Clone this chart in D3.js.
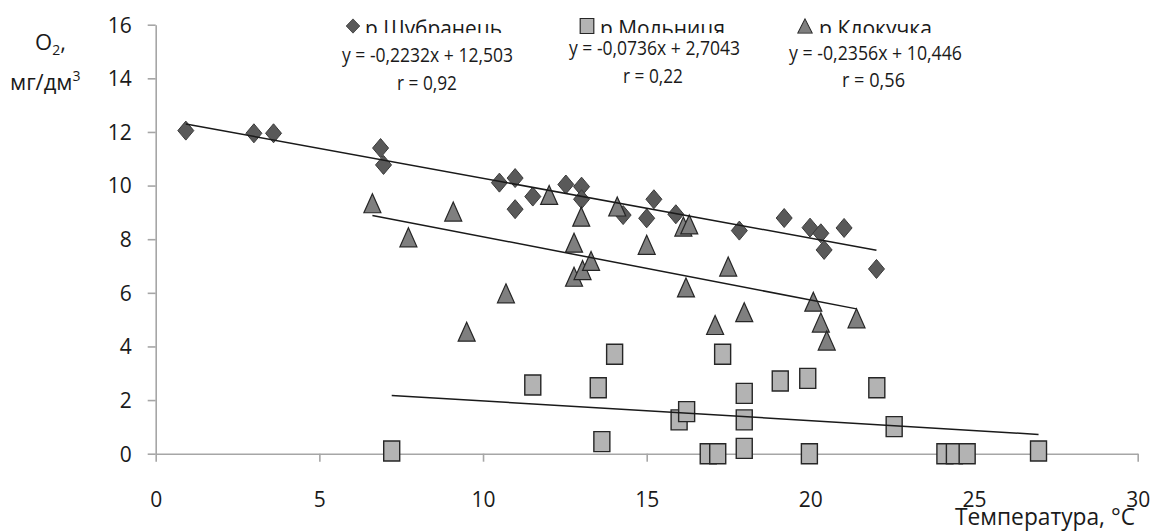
<!DOCTYPE html>
<html lang="uk">
<head>
    <meta charset="UTF-8">
    <title>O2 vs temperature</title>
    <script src="https://d3js.org/d3.v7.min.js"></script>
    <style>
        body { margin: 0; background: #fff; }
        text { font-family: "Open Sans", "DejaVu Sans", sans-serif; fill: #1a1a1a; }
    </style>
</head>
<body>
    <script>
        // р.Шубранець (diamonds)
        const shubX = [0.92, 3.0, 3.6, 6.87, 6.96, 10.5, 10.98, 10.98, 11.52, 12.53, 13.01, 13.01,
                       14.28, 15.0, 15.22, 15.89, 17.83, 19.2, 19.99, 20.32, 20.42, 21.03, 22.02];
        const shubY = [12.05, 11.95, 11.95, 11.4, 10.77, 10.11, 10.28, 9.12, 9.59, 10.04, 9.96, 9.49,
                       8.9, 8.78, 9.49, 8.93, 8.32, 8.79, 8.43, 8.22, 7.6, 8.42, 6.89];

        // р.Мольниця (squares)
        const molX = [7.21, 11.52, 13.52, 13.63, 14.02, 15.99, 16.22, 16.88, 17.17, 17.32, 17.98, 17.98,
                      17.98, 19.08, 19.92, 19.97, 22.03, 22.56, 24.11, 24.4, 24.79, 26.97];
        const molY = [0.1, 2.56, 2.46, 0.45, 3.71, 1.26, 1.57, 0.0, 0.0, 3.71, 2.25, 1.26,
                      0.2, 2.71, 2.81, 0.0, 2.46, 1.01, 0.0, 0.0, 0.0, 0.1];

        // р.Клокучка (triangles)
        const kloX = [6.62, 7.72, 9.09, 9.5, 10.7, 12.02, 12.78, 12.78, 13.0, 13.04, 13.3, 14.1,
                      15.0, 16.12, 16.3, 16.2, 17.09, 17.49, 17.98, 20.09, 20.32, 20.5, 21.41];
        const kloY = [9.34, 8.07, 9.03, 4.55, 5.98, 9.65, 7.87, 6.6, 8.84, 6.85, 7.19, 9.22,
                      7.79, 8.47, 8.55, 6.2, 4.8, 6.98, 5.28, 5.67, 4.89, 4.22, 5.05];

        const seriesNames = ["р.Шубранець", "р.Мольниця", "р.Клокучка"];
        const trendSlope = [-0.2232, -0.0736, -0.2356];
        const trendIntercept = [12.503, 2.7043, 10.446];
        const eqLabels = ["y = -0,2232x + 12,503", "y = -0,0736x + 2,7043", "y = -0,2356x + 10,446"];
        const rLabels = ["r = 0,92", "r = 0,22", "r = 0,56"];

        const xTicks = [0, 5, 10, 15, 20, 25, 30];
        const yTicks = [0, 2, 4, 6, 8, 10, 12, 14, 16];

        const w = 1158;
        const h = 531;

        const xScale = d3.scaleLinear().domain([0, 30]).range([155.7, 1137.7]);
        const yScale = d3.scaleLinear().domain([0, 16]).range([453.7, 24.7]);

        const svg = d3.select("body")
            .append("svg")
            .attr("width", w)
            .attr("height", h);

        // marker shapes, a little taller than wide like the original
        const shapes = {
            diamond: "M0,-9.5L8,0L0,9.5L-8,0Z",
            square: "M-8,-10H8V10H-8Z",
            triangle: "M0,-9.5L8.5,9.5L-8.5,9.5Z"
        };

        const series = [
            { xs: shubX, ys: shubY, shape: "diamond", fill: "#595959", stroke: "#3a3a3a", sw: 1 },
            { xs: molX, ys: molY, shape: "square", fill: "#b3b3b3", stroke: "#262626", sw: 1.4 },
            { xs: kloX, ys: kloY, shape: "triangle", fill: "#7f7f7f", stroke: "#262626", sw: 1.2 }
        ];

        // axes
        const xAxis = d3.axisBottom(xScale).tickValues(xTicks).tickSize(8).tickSizeOuter(0).tickPadding(30);
        const yAxis = d3.axisLeft(yScale).tickValues(yTicks).tickSize(8).tickSizeOuter(0).tickPadding(16);

        const gx = svg.append("g")
            .attr("transform", "translate(0," + yScale(0) + ")")
            .call(xAxis);
        const gy = svg.append("g")
            .attr("transform", "translate(" + xScale(0) + ",0)")
            .call(yAxis);

        [gx, gy].forEach((g) => {
            g.select(".domain").attr("stroke", "#a6a6a6").attr("stroke-width", 1.6);
            g.selectAll(".tick line").attr("stroke", "#a6a6a6").attr("stroke-width", 1.6);
            g.selectAll(".tick text")
                .attr("fill", "#1a1a1a")
                .style("font-size", "21px")
                .style("font-family", "\"Open Sans\", sans-serif");
        });
        gy.selectAll(".tick text").attr("dy", "0.35em");

        // markers
        series.forEach((s) => {
            svg.append("g")
                .selectAll("path")
                .data(s.xs.map((x, i) => [x, s.ys[i]]))
                .enter()
                .append("path")
                .attr("d", shapes[s.shape])
                .attr("transform", (d) => "translate(" + xScale(d[0]) + "," + yScale(d[1]) + ")")
                .attr("fill", s.fill)
                .attr("stroke", s.stroke)
                .attr("stroke-width", s.sw);
        });

        // linear trend lines over each series' x range
        series.forEach((s, i) => {
            const ext = d3.extent(s.xs);
            const line = d3.line()
                .x((d) => xScale(d))
                .y((d) => yScale(trendSlope[i] * d + trendIntercept[i]));
            svg.append("path")
                .attr("d", line(ext))
                .attr("fill", "none")
                .attr("stroke", "#1a1a1a")
                .attr("stroke-width", 1.5);
        });

        // legend (its bottom is cut off by the equation boxes in the original)
        svg.append("clipPath")
            .attr("id", "legclip")
            .append("rect")
            .attr("x", 0).attr("y", 0).attr("width", w).attr("height", 33);

        const legMarkX = [353, 587, 805];
        const legTextX = [365, 600, 819];
        const legTextW = [137, 125, 113];
        const leg = svg.append("g");
        series.forEach((s, i) => {
            leg.append("path")
                .attr("d", shapes[s.shape])
                .attr("transform", "translate(" + legMarkX[i] + ",26) scale(0.85,0.75)")
                .attr("fill", s.fill)
                .attr("stroke", s.stroke)
                .attr("stroke-width", s.sw);
            leg.append("text")
                .attr("x", legTextX[i])
                .attr("y", 36)
                .attr("clip-path", "url(#legclip)")
                .attr("textLength", legTextW[i])
                .attr("lengthAdjust", "spacingAndGlyphs")
                .style("font-size", "22px")
                .text(seriesNames[i]);
        });

        // trend equations and correlation
        const eqX = [427.5, 654.5, 875.5];
        const eqY = [62, 55, 60];
        const eqW = [171, 171, 173];
        const rX = [427, 653, 873.5];
        const rY = [90, 83, 87];
        const rW = [60, 60, 63];
        eqLabels.forEach((t, i) => {
            svg.append("text")
                .attr("x", eqX[i] - eqW[i] / 2)
                .attr("y", eqY[i])
                .attr("textLength", eqW[i])
                .attr("lengthAdjust", "spacingAndGlyphs")
                .style("font-size", "20px")
                .text(t);
            svg.append("text")
                .attr("x", rX[i] - rW[i] / 2)
                .attr("y", rY[i])
                .attr("textLength", rW[i])
                .attr("lengthAdjust", "spacingAndGlyphs")
                .style("font-size", "20px")
                .text(rLabels[i]);
        });

        // axis titles
        const yTitle = svg.append("text")
            .attr("x", 35)
            .attr("y", 50)
            .style("font-size", "22px");
        yTitle.append("tspan").text("O");
        yTitle.append("tspan").attr("dy", 5).style("font-size", "14px").text("2");
        yTitle.append("tspan").attr("dy", -5).text(",");

        const yTitle2 = svg.append("text")
            .attr("x", 10)
            .attr("y", 90)
            .style("font-size", "22px");
        yTitle2.append("tspan").text("мг/дм");
        yTitle2.append("tspan").attr("dy", -9).style("font-size", "14px").text("3");

        svg.append("text")
            .attr("x", 955)
            .attr("y", 525)
            .attr("textLength", 180)
            .attr("lengthAdjust", "spacingAndGlyphs")
            .style("font-size", "23px")
            .text("Температура, °C");
    </script>
</body>
</html>
